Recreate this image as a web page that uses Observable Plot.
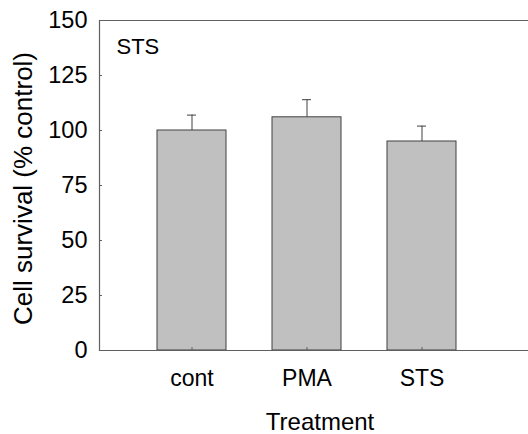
<!DOCTYPE html>
<html>
<head>
<meta charset="utf-8">
<script src="https://cdn.jsdelivr.net/npm/d3@7"></script>
<script src="https://cdn.jsdelivr.net/npm/@observablehq/plot@0.6"></script>
<style>
  html, body { margin: 0; padding: 0; background: #fff; }
  #chart svg { display: block; }
</style>
</head>
<body>
<div id="chart"></div>
<script>
const treatments = ["cont", "PMA", "STS"];
const survival = [100, 106, 95];
const errors = [7, 8, 7];
const yTicks = [0, 25, 50, 75, 100, 125, 150];
const panelLabel = "STS";
const xTitle = "Treatment";
const yTitle = "Cell survival (% control)";

const data = treatments.map((t, i) => ({t, v: survival[i], e: errors[i]}));
const font = "'Liberation Sans', Arial, sans-serif";
const axisColor = "#606060";
const ink = "#404040";

const chart = Plot.plot({
  width: 528,
  height: 434,
  marginLeft: 99,
  marginRight: 0,
  marginTop: 20,
  marginBottom: 84,
  style: {fontFamily: font, color: "#000", background: "#fff"},
  x: {type: "band", domain: treatments, range: [99, 513], paddingInner: 0.4, paddingOuter: 0.5},
  y: {domain: [0, 150]},
  marks: [
    Plot.barY(data, {x: "t", y: "v", fill: "#c0c0c0", stroke: ink, strokeWidth: 1}),
    Plot.ruleX(data, {x: "t", y1: "v", y2: d => d.v + d.e, stroke: ink, strokeWidth: 1}),
    Plot.tickY(data, {x: "t", y: d => d.v + d.e, stroke: ink, strokeWidth: 1, inset: 30}),
    Plot.ruleY([0, 150], {stroke: axisColor, strokeWidth: 1.2}),
    Plot.frame({anchor: "left", stroke: axisColor, strokeWidth: 1.2}),
    Plot.axisY({ticks: yTicks, tickSize: 0, tickPadding: 12, fontSize: 23.5, label: null, fill: "#000"}),
    Plot.axisY({ticks: yTicks, tickSize: 3, dx: 3, text: null, label: null, stroke: axisColor}),
    Plot.axisX({tickSize: 0, tickPadding: 19, fontSize: 23, label: null, fill: "#000"}),
    Plot.axisX({tickSize: 3, dy: -3, text: null, label: null, stroke: axisColor}),
    Plot.text([panelLabel], {frameAnchor: "top-left", dx: 17, dy: 18, lineAnchor: "top", textAnchor: "start", fontSize: 22}),
    Plot.text([xTitle], {frameAnchor: "bottom", dx: 6, dy: 62, lineAnchor: "top", fontSize: 24}),
    Plot.text([yTitle], {frameAnchor: "left", dx: -86, dy: 3, rotate: -90, lineAnchor: "top", textAnchor: "middle", fontSize: 26})
  ]
});
document.getElementById("chart").appendChild(chart);
</script>
</body>
</html>
